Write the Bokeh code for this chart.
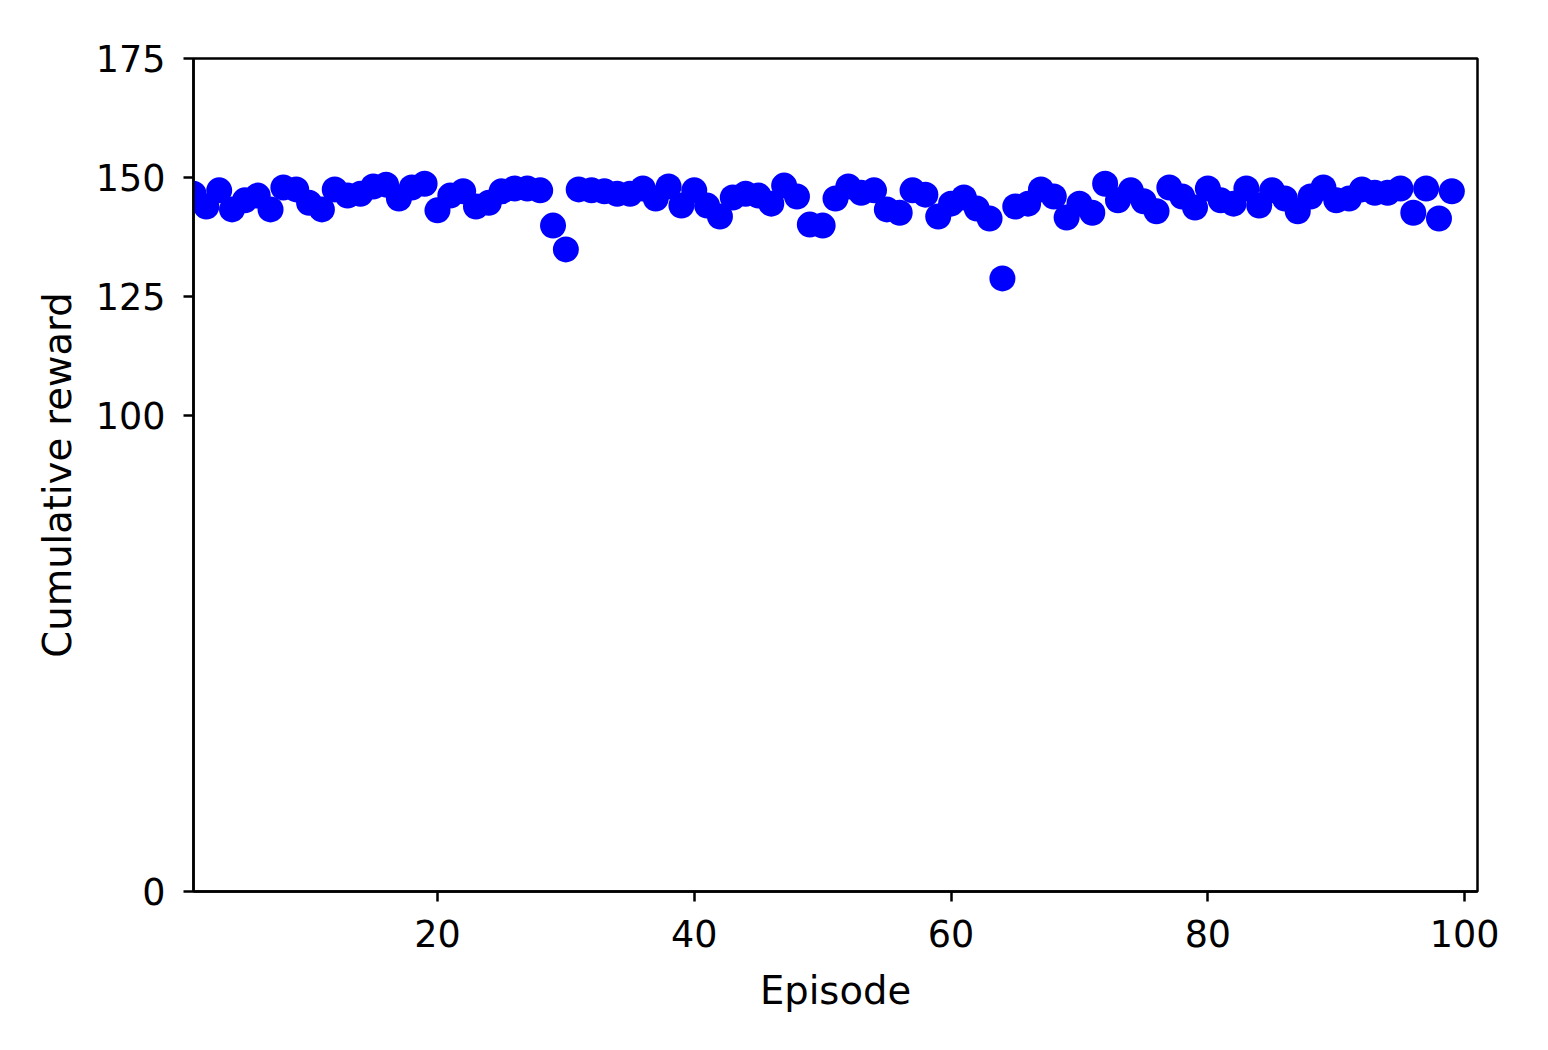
from bokeh.plotting import figure
from bokeh.models import Range1d, FixedTicker, ColumnDataSource
from bokeh.embed import file_html
from bokeh.resources import INLINE

episodes = list(range(1, 100))
rewards = [
    146.6, 143.9, 147.3, 143.3, 145.2, 146.2, 143.3, 147.9, 147.5, 144.7,
    143.3, 147.5, 146.2, 146.6, 148.1, 148.5, 145.6, 147.9, 148.7, 143.1,
    146.2, 147.1, 143.9, 144.7, 147.1, 147.7, 147.7, 147.3, 139.9, 134.9,
    147.5, 147.3, 147.1, 146.6, 146.6, 147.7, 145.6, 148.1, 144.1, 147.3,
    144.1, 141.8, 145.8, 146.6, 146.2, 144.5, 148.3, 146.0, 140.1, 139.9,
    145.6, 148.1, 146.8, 147.3, 143.3, 142.6, 147.3, 146.4, 141.8, 144.5,
    145.8, 143.5, 141.4, 128.8, 143.9, 144.5, 147.5, 146.0, 141.6, 144.5,
    142.6, 148.7, 145.2, 147.3, 145.0, 142.9, 147.9, 146.0, 143.7, 147.7,
    145.2, 144.5, 147.7, 144.1, 147.3, 145.6, 142.9, 146.0, 147.9, 145.2,
    145.6, 147.5, 146.8, 146.8, 147.7, 142.6, 147.7, 141.4, 147.1,
]
x_ticks = [20, 40, 60, 80, 100]
y_ticks = [0, 100, 125, 150, 175]
x_label = "Episode"
y_label = "Cumulative reward"

src = ColumnDataSource(data=dict(x=episodes, y=rewards))

p = figure(width=1540, height=1040, output_backend="svg", toolbar_location=None,
           x_range=Range1d(1, 101), y_range=Range1d(0, 175),
           min_border_left=193, min_border_top=58, min_border_right=63,
           min_border_bottom=149)
p.scatter("x", "y", source=src, size=26, fill_color="#0000ff", line_color="#0000ff",
          line_width=0)

p.xgrid.visible = False
p.ygrid.visible = False
p.outline_line_color = "black"
p.outline_line_width = 2.5
p.outline_line_alpha = 1.0

p.xaxis.ticker = FixedTicker(ticks=x_ticks)
p.yaxis.ticker = FixedTicker(ticks=y_ticks)
p.xaxis.axis_label = x_label
p.yaxis.axis_label = y_label

for ax in (p.xaxis, p.yaxis):
    ax.axis_line_width = 2.5
    ax.axis_line_color = "black"
    ax.major_tick_line_width = 2.5
    ax.major_tick_line_color = "black"
    ax.major_tick_in = 0
    ax.major_tick_out = 10
    ax.minor_tick_line_color = None
    ax.major_label_text_font = "DejaVu Sans"
    ax.major_label_text_font_size = "36.5px"
    ax.major_label_text_color = "black"
    ax.axis_label_text_font = "DejaVu Sans"
    ax.axis_label_text_font_size = "38.5px"
    ax.axis_label_text_font_style = "normal"
    ax.axis_label_text_color = "black"

p.xaxis.major_label_standoff = 18
p.yaxis.major_label_standoff = 18
p.xaxis.axis_label_standoff = 18
p.yaxis.axis_label_standoff = 13

open("out.html", "w").write(file_html(p, INLINE))
